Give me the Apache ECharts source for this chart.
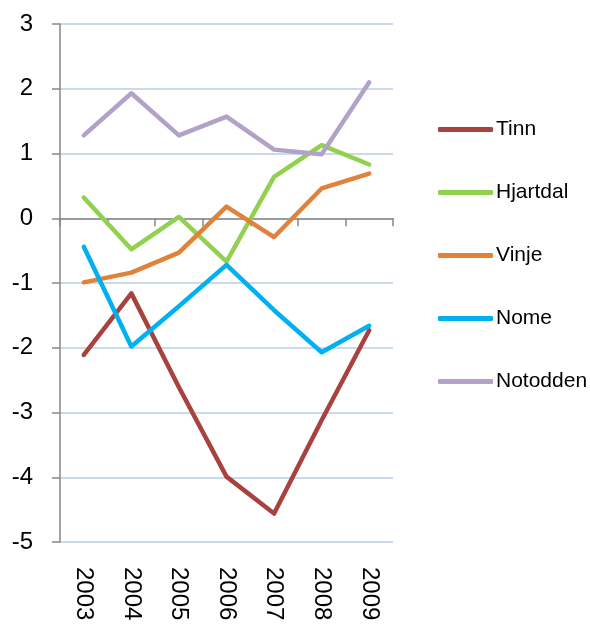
<!DOCTYPE html>
<html>
<head>
<meta charset="utf-8">
<script src="https://cdn.jsdelivr.net/npm/echarts@6/dist/echarts.min.js"></script>
<style>
  html, body { margin: 0; padding: 0; background: #fff; }
  #chart { width: 590px; height: 624px; }
</style>
</head>
<body>
<div id="chart"></div>
<script>
const years = ['2003', '2004', '2005', '2006', '2007', '2008', '2009'];
const names = ['Tinn', 'Hjartdal', 'Vinje', 'Nome', 'Notodden'];
const colors = ['#A8423F', '#92D050', '#E0823A', '#00B0F0', '#B3A2C7'];

const tinn = [-2.11, -1.16, -2.61, -3.99, -4.56, -3.12, -1.73];
const hjartdal = [0.32, -0.48, 0.02, -0.67, 0.64, 1.13, 0.83];
const vinje = [-0.99, -0.84, -0.53, 0.18, -0.29, 0.46, 0.69];
const nome = [-0.44, -1.98, -1.36, -0.72, -1.42, -2.07, -1.66];
const notodden = [1.28, 1.93, 1.28, 1.57, 1.06, 0.99, 2.10];
const values = [tinn, hjartdal, vinje, nome, notodden];

const chart = echarts.init(document.getElementById('chart'));
const axisGrey = '#868686';

chart.setOption({
  animation: false,
  color: colors,
  textStyle: { fontFamily: 'Liberation Sans, Arial, sans-serif' },
  grid: { left: 60, right: 197, top: 24, bottom: 82 },
  legend: {
    orient: 'vertical',
    left: 438,
    top: 119,
    padding: 0,
    icon: 'roundRect',
    itemWidth: 55,
    itemHeight: 5,
    itemGap: 42,
    textStyle: { fontSize: 21, lineHeight: 21, color: '#000', padding: [0, 0, 0, -2] },
    data: names
  },
  xAxis: [
    {
      type: 'category',
      data: years,
      boundaryGap: true,
      axisLine: { onZero: true, lineStyle: { color: axisGrey, width: 1.5 } },
      axisTick: { show: true, length: 8, lineStyle: { color: axisGrey, width: 1.5 } },
      axisLabel: { show: false },
      splitLine: { show: false }
    },
    {
      type: 'category',
      data: years,
      position: 'bottom',
      axisLine: { show: false, onZero: false },
      axisTick: { show: false },
      axisLabel: { rotate: -90, fontSize: 24, color: '#000', margin: 25 }
    }
  ],
  yAxis: {
    type: 'value',
    min: -5,
    max: 3,
    interval: 1,
    axisLine: { show: true, lineStyle: { color: axisGrey, width: 1.5 } },
    axisTick: { show: true, length: 8, lineStyle: { color: axisGrey, width: 1.5 } },
    axisLabel: { fontSize: 24, color: '#000', margin: 27 },
    splitLine: { lineStyle: { color: '#B9CDE5', width: 1.5 } }
  },
  series: names.map((name, i) => ({
    name: name,
    type: 'line',
    xAxisIndex: 0,
    data: values[i],
    symbol: 'none',
    lineStyle: { width: 4.5, color: colors[i], cap: 'round', join: 'round' },
    itemStyle: { color: colors[i] }
  }))
});
</script>
</body>
</html>
